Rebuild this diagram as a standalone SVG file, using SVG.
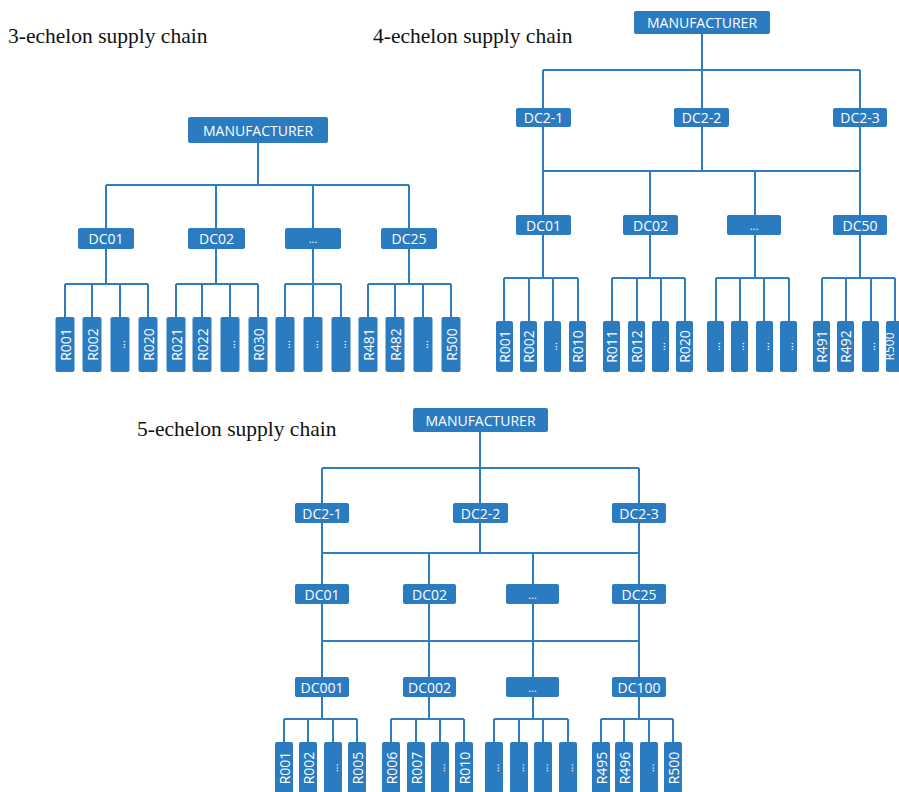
<svg xmlns="http://www.w3.org/2000/svg" width="899" height="792" viewBox="0 0 899 792">
<style>
.bg{fill:#ffffff}
.n rect{fill:#2a7bbf}
.n text{fill:#ffffff;font-family:"Open Sans","Noto Sans",sans-serif;font-size:14px;text-anchor:middle;dominant-baseline:central}
.n text.d{font-size:11px}
.n text.s{font-size:12px}
.c path{stroke:#2e7dc2;stroke-width:2;fill:none}
.title{font-family:"Liberation Serif","Times New Roman",serif;font-size:21.5px;fill:#111111}
</style>
<rect class="bg" x="0" y="0" width="899" height="792"/>
<text class="title" x="8" y="43">3-echelon supply chain</text>
<text class="title" x="373" y="43">4-echelon supply chain</text>
<text class="title" x="137" y="436">5-echelon supply chain</text>

<!-- 3-echelon connectors -->
<g class="c" id="conn3">
<path d="M258 143V185M106 185H409M106 185V228M216 185V228M313 185V228M409 185V228"/>
<path d="M106 249V284M65 284H148M65 284V317M92 284V317M120 284V317M148 284V317"/>
<path d="M216 249V284M176 284H258M176 284V317M202 284V317M230 284V317M258 284V317"/>
<path d="M313 249V284M285 284H341M285 284V317M313 284V317M341 284V317"/>
<path d="M409 249V284M368 284H451M368 284V317M395 284V317M423 284V317M451 284V317"/>
</g>
<!-- 3-echelon nodes -->
<g class="n" id="e3-man"><rect x="188" y="117" width="140" height="26" rx="2"/><text x="258" y="130">MANUFACTURER</text></g>
<g class="n" id="e3-dc01"><rect x="78" y="228" width="56" height="21" rx="2"/><text x="106" y="238.5">DC01</text></g>
<g class="n" id="e3-dc02"><rect x="188" y="228" width="57" height="21" rx="2"/><text x="216.5" y="238.5">DC02</text></g>
<g class="n" id="e3-dcx"><rect x="285" y="228" width="56" height="21" rx="2"/><text class="d" x="313" y="238.5">...</text></g>
<g class="n" id="e3-dc25"><rect x="381" y="228" width="56" height="21" rx="2"/><text x="409" y="238.5">DC25</text></g>
<g class="n" id="e3-r001"><rect x="55.5" y="317" width="19" height="55" rx="2"/><text transform="rotate(-90 65 344.5)" x="65" y="344.5">R001</text></g>
<g class="n" id="e3-r002"><rect x="82.5" y="317" width="19" height="55" rx="2"/><text transform="rotate(-90 92 344.5)" x="92" y="344.5">R002</text></g>
<g class="n" id="e3-r0xa"><rect x="110.5" y="317" width="19" height="55" rx="2"/><text class="d" transform="rotate(-90 120 344.5)" x="120" y="344.5">...</text></g>
<g class="n" id="e3-r020"><rect x="138.5" y="317" width="19" height="55" rx="2"/><text transform="rotate(-90 148 344.5)" x="148" y="344.5">R020</text></g>
<g class="n" id="e3-r021"><rect x="166.5" y="317" width="19" height="55" rx="2"/><text transform="rotate(-90 176 344.5)" x="176" y="344.5">R021</text></g>
<g class="n" id="e3-r022"><rect x="192.5" y="317" width="19" height="55" rx="2"/><text transform="rotate(-90 202 344.5)" x="202" y="344.5">R022</text></g>
<g class="n" id="e3-r0xb"><rect x="220.5" y="317" width="19" height="55" rx="2"/><text class="d" transform="rotate(-90 230 344.5)" x="230" y="344.5">...</text></g>
<g class="n" id="e3-r030"><rect x="248.5" y="317" width="19" height="55" rx="2"/><text transform="rotate(-90 258 344.5)" x="258" y="344.5">R030</text></g>
<g class="n" id="e3-rxa"><rect x="275.5" y="317" width="19" height="55" rx="2"/><text class="d" transform="rotate(-90 285 344.5)" x="285" y="344.5">...</text></g>
<g class="n" id="e3-rxb"><rect x="303.5" y="317" width="19" height="55" rx="2"/><text class="d" transform="rotate(-90 313 344.5)" x="313" y="344.5">...</text></g>
<g class="n" id="e3-rxc"><rect x="331.5" y="317" width="19" height="55" rx="2"/><text class="d" transform="rotate(-90 341 344.5)" x="341" y="344.5">...</text></g>
<g class="n" id="e3-r481"><rect x="358.5" y="317" width="19" height="55" rx="2"/><text transform="rotate(-90 368 344.5)" x="368" y="344.5">R481</text></g>
<g class="n" id="e3-r482"><rect x="385.5" y="317" width="19" height="55" rx="2"/><text transform="rotate(-90 395 344.5)" x="395" y="344.5">R482</text></g>
<g class="n" id="e3-r4xx"><rect x="413.5" y="317" width="19" height="55" rx="2"/><text class="d" transform="rotate(-90 423 344.5)" x="423" y="344.5">...</text></g>
<g class="n" id="e3-r500"><rect x="441.5" y="317" width="19" height="55" rx="2"/><text transform="rotate(-90 451 344.5)" x="451" y="344.5">R500</text></g>

<!-- 4-echelon connectors -->
<g class="c" id="conn4">
<path d="M702 34V70M543 70H860M543 70V108M702 70V108M860 70V108"/>
<path d="M543 127V215M702 127V171M860 127V215M543 171H860M650 171V215M755 171V215"/>
<path d="M543 235V278M504 278H578M504 278V321M529 278V321M553 278V321M578 278V321"/>
<path d="M650 235V278M612 278H685M612 278V321M637 278V321M661 278V321M685 278V321"/>
<path d="M755 235V278M716 278H789M716 278V321M740 278V321M764 278V321M789 278V321"/>
<path d="M860 235V278M822 278H895M822 278V321M846 278V321M871 278V321M895 278V321"/>
</g>
<!-- 4-echelon nodes -->
<g class="n" id="e4-man"><rect x="634" y="11" width="136" height="23" rx="2"/><text x="702" y="22.5">MANUFACTURER</text></g>
<g class="n" id="e4-dc21"><rect x="516" y="108" width="55" height="19" rx="2"/><text x="543.5" y="117.5">DC2-1</text></g>
<g class="n" id="e4-dc22"><rect x="674" y="108" width="55" height="19" rx="2"/><text x="701.5" y="117.5">DC2-2</text></g>
<g class="n" id="e4-dc23"><rect x="833" y="108" width="54" height="19" rx="2"/><text x="860" y="117.5">DC2-3</text></g>
<g class="n" id="e4-dc01"><rect x="516" y="215" width="55" height="20" rx="2"/><text x="543.5" y="225">DC01</text></g>
<g class="n" id="e4-dc02"><rect x="623" y="215" width="55" height="20" rx="2"/><text x="650.5" y="225">DC02</text></g>
<g class="n" id="e4-dcx"><rect x="727" y="215" width="54" height="20" rx="2"/><text class="d" x="754" y="225">...</text></g>
<g class="n" id="e4-dc50"><rect x="833" y="215" width="54" height="20" rx="2"/><text x="860" y="225">DC50</text></g>
<g class="n" id="e4-r001"><rect x="496" y="321" width="17" height="51" rx="2"/><text transform="rotate(-90 504.5 346.5)" x="504.5" y="346.5">R001</text></g>
<g class="n" id="e4-r002"><rect x="520" y="321" width="17" height="51" rx="2"/><text transform="rotate(-90 528.5 346.5)" x="528.5" y="346.5">R002</text></g>
<g class="n" id="e4-r0xa"><rect x="544" y="321" width="17" height="51" rx="2"/><text class="d" transform="rotate(-90 552.5 346.5)" x="552.5" y="346.5">...</text></g>
<g class="n" id="e4-r010"><rect x="569" y="321" width="17" height="51" rx="2"/><text transform="rotate(-90 577.5 346.5)" x="577.5" y="346.5">R010</text></g>
<g class="n" id="e4-r011"><rect x="603" y="321" width="17" height="51" rx="2"/><text transform="rotate(-90 611.5 346.5)" x="611.5" y="346.5">R011</text></g>
<g class="n" id="e4-r012"><rect x="628" y="321" width="17" height="51" rx="2"/><text transform="rotate(-90 636.5 346.5)" x="636.5" y="346.5">R012</text></g>
<g class="n" id="e4-r0xb"><rect x="652" y="321" width="17" height="51" rx="2"/><text class="d" transform="rotate(-90 660.5 346.5)" x="660.5" y="346.5">...</text></g>
<g class="n" id="e4-r020"><rect x="676" y="321" width="17" height="51" rx="2"/><text transform="rotate(-90 684.5 346.5)" x="684.5" y="346.5">R020</text></g>
<g class="n" id="e4-rxa"><rect x="707" y="321" width="17" height="51" rx="2"/><text class="d" transform="rotate(-90 715.5 346.5)" x="715.5" y="346.5">...</text></g>
<g class="n" id="e4-rxb"><rect x="731" y="321" width="17" height="51" rx="2"/><text class="d" transform="rotate(-90 739.5 346.5)" x="739.5" y="346.5">...</text></g>
<g class="n" id="e4-rxc"><rect x="756" y="321" width="17" height="51" rx="2"/><text class="d" transform="rotate(-90 764.5 346.5)" x="764.5" y="346.5">...</text></g>
<g class="n" id="e4-rxd"><rect x="780" y="321" width="17" height="51" rx="2"/><text class="d" transform="rotate(-90 788.5 346.5)" x="788.5" y="346.5">...</text></g>
<g class="n" id="e4-r491"><rect x="813" y="321" width="17" height="51" rx="2"/><text transform="rotate(-90 821.5 346.5)" x="821.5" y="346.5">R491</text></g>
<g class="n" id="e4-r492"><rect x="837" y="321" width="17" height="51" rx="2"/><text transform="rotate(-90 845.5 346.5)" x="845.5" y="346.5">R492</text></g>
<g class="n" id="e4-r4xx"><rect x="862" y="321" width="17" height="51" rx="2"/><text class="d" transform="rotate(-90 870.5 346.5)" x="870.5" y="346.5">...</text></g>
<g class="n" id="e4-r500"><rect x="886" y="321" width="17" height="51" rx="2"/><text class="s" transform="rotate(-90 889 346.5)" x="889" y="346.5">R500</text></g>

<!-- 5-echelon connectors -->
<g class="c" id="conn5">
<path d="M480 432V468M322 468H639M322 468V503M480 468V503M639 468V503"/>
<path d="M322 523V584M480 523V553M639 523V584M322 553H639M429 553V584M533 553V584"/>
<path d="M322 604V677M429 604V677M533 604V677M639 604V677M322 641H639"/>
<path d="M322 697V719M284 719H357M284 719V743M308 719V743M333 719V743M357 719V743"/>
<path d="M429 697V719M391 719H464M391 719V743M416 719V743M440 719V743M464 719V743"/>
<path d="M533 697V719M494 719H568M494 719V743M519 719V743M543 719V743M568 719V743"/>
<path d="M639 697V719M601 719H673M601 719V743M624 719V743M649 719V743M673 719V743"/>
</g>
<!-- 5-echelon nodes -->
<g class="n" id="e5-man"><rect x="413" y="408" width="135" height="24" rx="2"/><text x="480.5" y="420">MANUFACTURER</text></g>
<g class="n" id="e5-dc21"><rect x="295" y="503" width="54" height="20" rx="2"/><text x="322" y="513">DC2-1</text></g>
<g class="n" id="e5-dc22"><rect x="453" y="503" width="55" height="20" rx="2"/><text x="480.5" y="513">DC2-2</text></g>
<g class="n" id="e5-dc23"><rect x="612" y="503" width="54" height="20" rx="2"/><text x="639" y="513">DC2-3</text></g>
<g class="n" id="e5-dc01"><rect x="295" y="584" width="54" height="20" rx="2"/><text x="322" y="594">DC01</text></g>
<g class="n" id="e5-dc02"><rect x="403" y="584" width="53" height="20" rx="2"/><text x="429.5" y="594">DC02</text></g>
<g class="n" id="e5-dcx"><rect x="506" y="584" width="53" height="20" rx="2"/><text class="d" x="532.5" y="594">...</text></g>
<g class="n" id="e5-dc25"><rect x="612" y="584" width="54" height="20" rx="2"/><text x="639" y="594">DC25</text></g>
<g class="n" id="e5-dc001"><rect x="295" y="677" width="54" height="20" rx="2"/><text x="322" y="687">DC001</text></g>
<g class="n" id="e5-dc002"><rect x="403" y="677" width="53" height="20" rx="2"/><text x="429.5" y="687">DC002</text></g>
<g class="n" id="e5-dcxx"><rect x="506" y="677" width="53" height="20" rx="2"/><text class="d" x="532.5" y="687">...</text></g>
<g class="n" id="e5-dc100"><rect x="612" y="677" width="54" height="20" rx="2"/><text x="639" y="687">DC100</text></g>
<g class="n" id="e5-r001"><rect x="275" y="742" width="18" height="55" rx="2"/><text transform="rotate(-90 284 768)" x="284" y="768">R001</text></g>
<g class="n" id="e5-r002"><rect x="299" y="742" width="18" height="55" rx="2"/><text transform="rotate(-90 308 768)" x="308" y="768">R002</text></g>
<g class="n" id="e5-r0xa"><rect x="324" y="742" width="18" height="55" rx="2"/><text class="d" transform="rotate(-90 333 768)" x="333" y="768">...</text></g>
<g class="n" id="e5-r005"><rect x="348" y="742" width="18" height="55" rx="2"/><text transform="rotate(-90 357 768)" x="357" y="768">R005</text></g>
<g class="n" id="e5-r006"><rect x="382" y="742" width="18" height="55" rx="2"/><text transform="rotate(-90 391 768)" x="391" y="768">R006</text></g>
<g class="n" id="e5-r007"><rect x="407" y="742" width="18" height="55" rx="2"/><text transform="rotate(-90 416 768)" x="416" y="768">R007</text></g>
<g class="n" id="e5-r0xb"><rect x="431" y="742" width="18" height="55" rx="2"/><text class="d" transform="rotate(-90 440 768)" x="440" y="768">...</text></g>
<g class="n" id="e5-r010"><rect x="455" y="742" width="18" height="55" rx="2"/><text transform="rotate(-90 464 768)" x="464" y="768">R010</text></g>
<g class="n" id="e5-rxa"><rect x="485" y="742" width="18" height="55" rx="2"/><text class="d" transform="rotate(-90 494 768)" x="494" y="768">...</text></g>
<g class="n" id="e5-rxb"><rect x="510" y="742" width="18" height="55" rx="2"/><text class="d" transform="rotate(-90 519 768)" x="519" y="768">...</text></g>
<g class="n" id="e5-rxc"><rect x="534" y="742" width="18" height="55" rx="2"/><text class="d" transform="rotate(-90 543 768)" x="543" y="768">...</text></g>
<g class="n" id="e5-rxd"><rect x="559" y="742" width="18" height="55" rx="2"/><text class="d" transform="rotate(-90 568 768)" x="568" y="768">...</text></g>
<g class="n" id="e5-r495"><rect x="592" y="742" width="18" height="55" rx="2"/><text transform="rotate(-90 601 768)" x="601" y="768">R495</text></g>
<g class="n" id="e5-r496"><rect x="615" y="742" width="18" height="55" rx="2"/><text transform="rotate(-90 624 768)" x="624" y="768">R496</text></g>
<g class="n" id="e5-r4xx"><rect x="640" y="742" width="18" height="55" rx="2"/><text class="d" transform="rotate(-90 649 768)" x="649" y="768">...</text></g>
<g class="n" id="e5-r500"><rect x="664" y="742" width="18" height="55" rx="2"/><text transform="rotate(-90 673 768)" x="673" y="768">R500</text></g>
</svg>
